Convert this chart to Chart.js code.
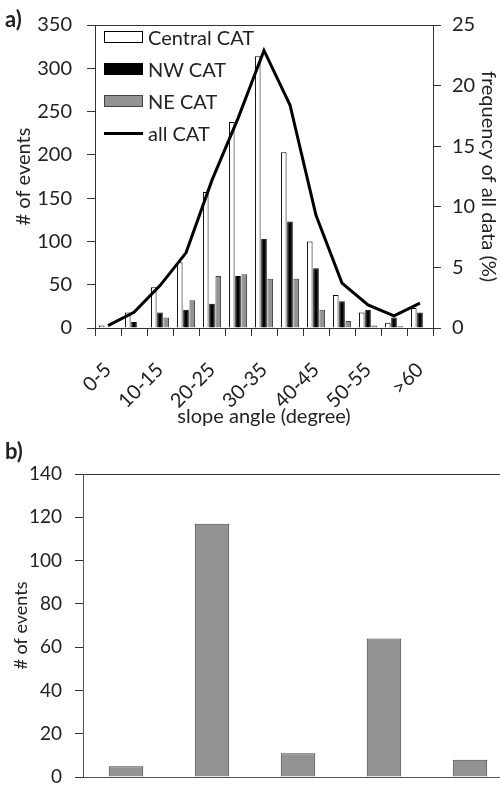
<!DOCTYPE html>
<html>
<head>
<meta charset="utf-8">
<script src="https://cdn.jsdelivr.net/npm/chart.js@4"></script>
<style>
	body		{ margin: 0; width: 500px; height: 786px; overflow: hidden; background: #fff; font-family: Lato, sans-serif; color: #222; position: relative; }
	.panel		{ position: absolute; font-weight: bold; font-size: 22px; left: 5px; }
	#boxA		{ position: absolute; left: 0; top: 0; width: 500px; height: 430px; }
	#boxB		{ position: absolute; left: 0; top: 430px; width: 520px; height: 356px; }
	#legend		{ position: absolute; left: 104px; top: 21px; }
	.item		{ display: flex; align-items: center; height: 32px; font-size: 20px; }
	.swatch		{ width: 39px; margin-right: 5px; box-sizing: border-box; }
</style>
</head>
<body>
<div id="boxA"><canvas id="chartA"></canvas></div>
<div id="boxB"><canvas id="chartB"></canvas></div>
<div class="panel" style="top:5px">a)</div>
<div class="panel" style="top:437px">b)</div>
<div id="legend"></div>
<script>
// a) slope angle distribution
const angles	= [ '0-5', '5-10', '10-15', '15-20', '20-25', '25-30', '30-35', '35-40', '40-45', '45-50', '50-55', '55-60', '>60' ];
const central	= [ 3, 18, 47, 76, 157, 238, 314, 203, 100, 38, 18, 6, 23 ];
const nw		= [ 1, 7, 18, 21, 28, 60, 103, 123, 69, 31, 21, 12, 18 ];
const ne		= [ 0, 1, 12, 32, 60, 62, 57, 57, 21, 8, 3, 2, 0 ];
const allCat	= [ 0.2, 1.3, 3.5, 6.2, 12.2, 17.3, 22.9, 18.4, 9.3, 3.7, 1.9, 1.0, 2.05 ];
const leftTicks	= [ 0, 350, 50 ];	// min, max, step
const rightTicks	= [ 0, 25, 5 ];

// b) events per class
const classes	= [ '1', '2', '3', '4', '5' ];
const events	= [ 5, 117, 11, 64, 8 ];
const bTicks	= [ 0, 140, 20 ];

const INK	= '#333';
const GRAY	= '#939393';

Chart.defaults.font.family	= 'Lato';
Chart.defaults.color		= '#222';
Chart.defaults.animation	= false;

function frameGrid( top ) {
	return {
		drawOnChartArea	: true,
		color			: c => ( c.tick && c.tick.value === top ) ? INK : 'transparent',
		tickLength		: 8,
		tickColor		: INK
	};
}

// fixed axis width, and no extra room asked for the end labels
function fixWidth( w ) {
	return s => {
		s.width			= w;
		s.paddingTop	= 0;
		s.paddingBottom	= 0;
	};
}

const legendItems	= [
	{ label: 'Central CAT', fill: '#fff', border: '#000', h: 12 },
	{ label: 'NW CAT', fill: '#000', border: '#000', h: 12 },
	{ label: 'NE CAT', fill: GRAY, border: '#444', h: 12 },
	{ label: 'all CAT', fill: '#000', border: '#000', h: 3 }
];

let lg	= document.getElementById( 'legend' );
for ( const it of legendItems ) {
	let row	= document.createElement( 'div' );
	row.className	= 'item';
	row.innerHTML	= '<div class="swatch" style="height:' + it.h + 'px;background:' + it.fill + ';border:' + ( it.h > 3 ? '1px solid ' + it.border : 'none' ) + '"></div>' + it.label;
	lg.appendChild( row );
}

new Chart( document.getElementById( 'chartA' ), {
	data: {
		labels: angles,
		datasets: [
			{ type: 'line', label: 'all CAT', data: allCat, yAxisID: 'y1', borderColor: '#000', borderWidth: 3, pointRadius: 0, tension: 0, order: 0 },
			{ type: 'bar', label: 'Central CAT', data: central, backgroundColor: '#fff', borderColor: '#000', borderWidth: 1, order: 1 },
			{ type: 'bar', label: 'NW CAT', data: nw, backgroundColor: '#000', borderColor: '#000', borderWidth: 1, order: 1 },
			{ type: 'bar', label: 'NE CAT', data: ne, backgroundColor: GRAY, borderColor: '#444', borderWidth: 1, order: 1 }
		]
	},
	options: {
		responsive: true,
		maintainAspectRatio: false,
		layout: { padding: { top: 25 } },
		datasets: { bar: { categoryPercentage: 0.72, barPercentage: 0.9 } },
		plugins: { legend: { display: false }, tooltip: { enabled: false } },
		scales: {
			x: {
				grid	: { offset: true, drawOnChartArea: false, tickLength: 8, tickColor: INK },
				border	: { color: INK },
				ticks	: { autoSkip: false, minRotation: 45, maxRotation: 45, padding: 22, font: { size: 20 }, callback: ( v, i ) => i % 2 === 0 ? angles[ i ] : '' },
				title	: { display: true, text: 'slope angle (degree)', font: { size: 20 }, padding: { top: 0, bottom: 1 } },
				afterFit: s => { s.height = 102; }
			},
			y: {
				position: 'left',
				min		: leftTicks[ 0 ],
				max		: leftTicks[ 1 ],
				ticks	: { stepSize: leftTicks[ 2 ], padding: 15, font: { size: 20 } },
				grid	: frameGrid( leftTicks[ 1 ] ),
				border	: { color: INK },
				title	: { display: true, text: '# of events', font: { size: 20 }, padding: { top: 12, bottom: 0 } },
				afterFit: fixWidth( 95 )
			},
			y1: {
				position: 'right',
				min		: rightTicks[ 0 ],
				max		: rightTicks[ 1 ],
				ticks	: { stepSize: rightTicks[ 2 ], padding: 11, font: { size: 20 } },
				grid	: { drawOnChartArea: false, tickLength: 8, tickColor: INK },
				border	: { color: INK },
				title	: { display: true, text: 'frequency of all data (%)', font: { size: 20 }, padding: { top: 0, bottom: 0 } },
				afterFit: fixWidth( 67 )
			}
		}
	}
} );

new Chart( document.getElementById( 'chartB' ), {
	type: 'bar',
	data: {
		labels: classes,
		datasets: [
			{ label: 'events', data: events, backgroundColor: GRAY, borderColor: '#444', borderWidth: 1, categoryPercentage: 0.8, barPercentage: 0.5 }
		]
	},
	options: {
		responsive: true,
		maintainAspectRatio: false,
		layout: { padding: { top: 44, right: 7 } },
		plugins: { legend: { display: false }, tooltip: { enabled: false } },
		scales: {
			x: {
				ticks	: { display: false },
				grid	: { display: false },
				border	: { color: '#555' },
				afterFit: s => { s.height = 9; }
			},
			y: {
				min		: bTicks[ 0 ],
				max		: bTicks[ 1 ],
				ticks	: { stepSize: bTicks[ 2 ], padding: 13, font: { size: 19 } },
				grid	: frameGrid( bTicks[ 1 ] ),
				border	: { color: '#555' },
				title	: { display: true, text: '# of events', font: { size: 18 }, padding: { top: 10, bottom: 0 } },
				afterFit: fixWidth( 83 )
			}
		}
	}
} );
</script>
</body>
</html>
